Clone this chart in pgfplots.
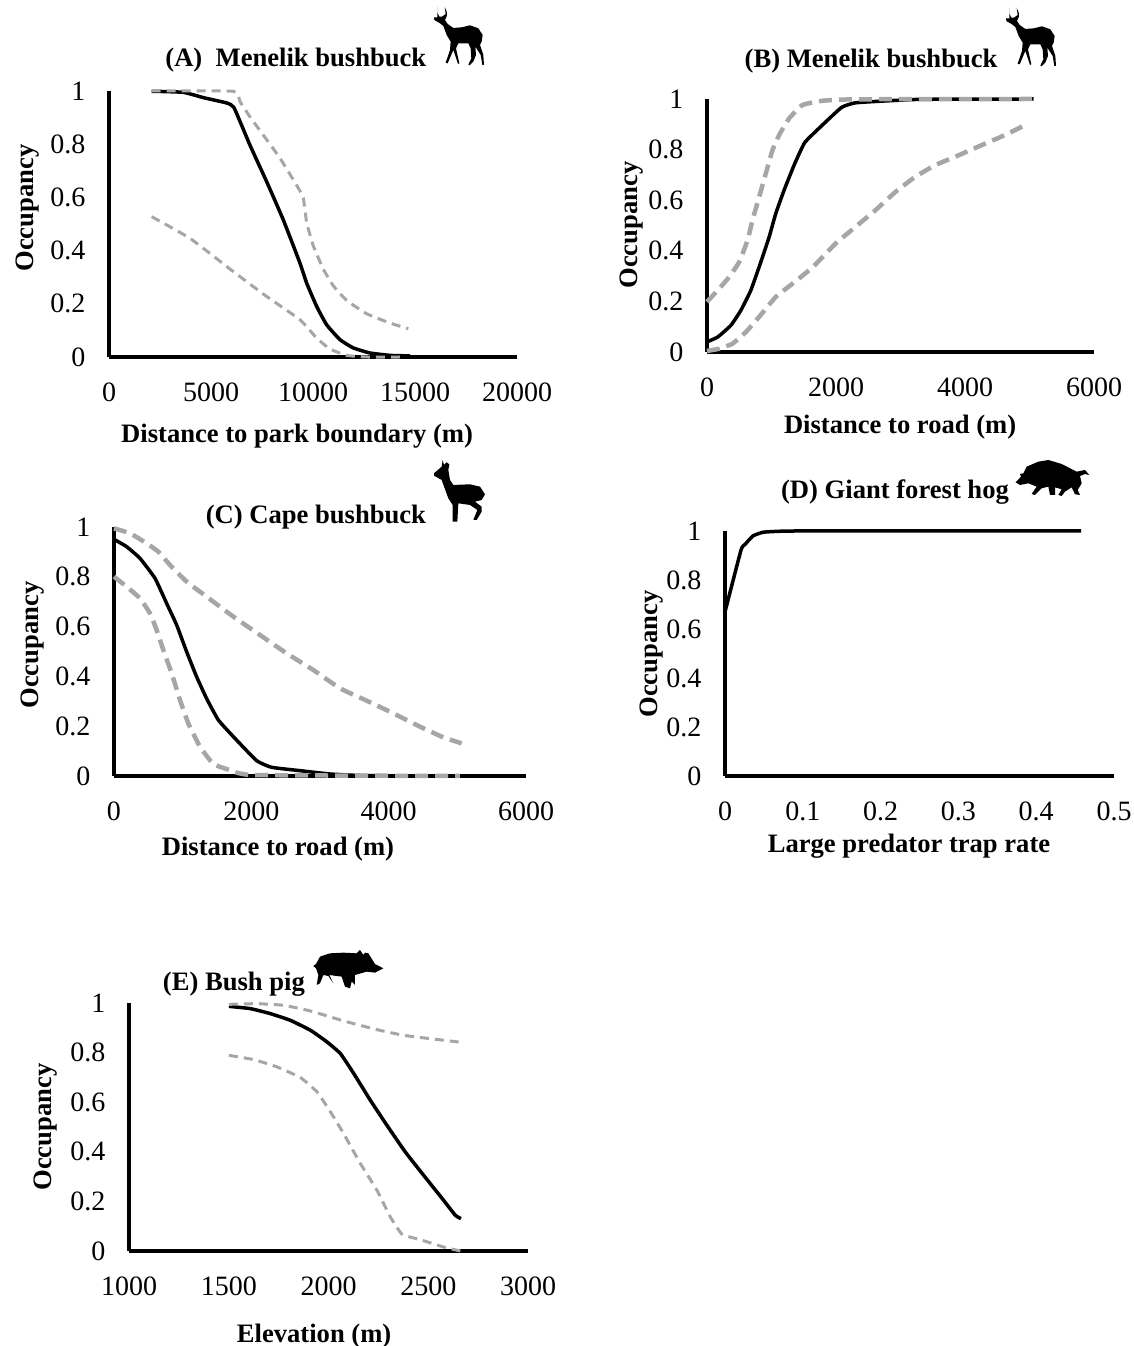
\documentclass[border=0pt]{standalone}
\usepackage{fontspec}
\setmainfont{Liberation Serif}
\usepackage{pgfplots}
\pgfplotsset{compat=1.18}
\definecolor{cigray}{HTML}{A6A6A6}
\pgfplotsset{
  panel/.style={
    scale only axis, clip=false, axis lines=left,
    axis line style={-, line width=3.5pt, black},
    major tick length=0pt, ymin=0, ymax=1,
    ytick={0,0.2,0.4,0.6,0.8,1},
    yticklabels={0,0.2,0.4,0.6,0.8,1},
    scaled ticks=false,
    /pgf/number format/assume math mode=true,
    /pgf/number format/1000 sep={},
    tick label style={font=\fontsize{28}{33}\selectfont},
    xticklabel style={yshift=-22pt},
    yticklabel style={xshift=-20pt},
    label style={font=\fontsize{26.6}{31}\selectfont\bfseries},
    xlabel style={yshift=-3pt},
    title style={font=\fontsize{26.6}{31}\selectfont\bfseries,yshift=-8pt},
  },
  mean/.style={black, line width=3.5pt, no markers, smooth, tension=0.25, line join=round},
  thin ci/.style={cigray, line width=3pt, no markers, smooth, tension=0.25, dash pattern=on 9pt off 6pt},
  thick ci/.style={cigray, line width=4.5pt, no markers, smooth, tension=0.25, dash pattern=on 13pt off 7pt},
}
\newcommand{\animal}[3]{\begin{scope}[shift={(#1,{1346-#2})},xscale=0.3333,yscale=-0.3333]\fill[black,line join=round] #3 -- cycle;\end{scope}}
\newcommand{\buck}{(112,20)--(112,38)--(118,50)--(126,50)--(137,42)--(134,20)--(141,38)--(140,50)--(135,60)--(143,72)--(160,84)--(185,82)--(210,76)--(235,85)--(248,105)--(245,125)--(240,135)--(250,165)--(252,195)--(247,195)--(242,165)--(226,140)--(228,165)--(220,185)--(209,196)--(205,194)--(214,175)--(212,145)--(205,130)--(175,130)--(168,145)--(178,190)--(174,192)--(160,150)--(143,190)--(137,188)--(150,150)--(152,125)--(140,105)--(130,78)--(120,70)--(103,60)--(102,52)--(112,52)}
\begin{document}
\begin{tikzpicture}[x=1pt,y=1pt]
\path[use as bounding box] (0,0) rectangle (1134,1346);

% (A)
\begin{axis}[panel, at={(109pt,989pt)}, anchor=south west, width=408pt, height=266pt,
  xmin=0, xmax=20000, xtick={0,5000,10000,15000,20000},
  xlabel={Distance to park boundary (m)}, ylabel={Occupancy},
  title={(A)\ \ Menelik bushbuck},
  xlabel style={at={(axis description cs:0.461,-0.286)},anchor=center},
  ylabel style={at={(axis description cs:-0.2,0.56)},anchor=center},
  title style={at={(axis description cs:0.458,1.124)},anchor=center}]
\addplot[mean] coordinates {(2092,0.999)(3644,0.995)(4624,0.975)(5768,0.955)(6127,0.9375)(6912,0.796)(7729,0.659)(8546,0.515)(9363,0.3525)(9690,0.2775)(10180,0.19)(10670,0.121)(11324,0.065)(11977,0.034)(12794,0.015)(13775,0.006)(14755,0.004)};
\addplot[thin ci] coordinates {(2092,1)(6095,0.999)(6422,0.96)(6912,0.9025)(7566,0.834)(8382,0.7475)(9281,0.635)(9526,0.5975)(9690,0.505)(10017,0.4175)(10507,0.33)(10997,0.2675)(11651,0.2125)(12631,0.1625)(13775,0.1275)(14674,0.10625)};
\addplot[thin ci] coordinates {(2092,0.5275)(3971,0.446)(6095,0.321)(7729,0.2275)(9363,0.14)(10180,0.071)(10833,0.03)(11651,0.006)(12631,0)(14428,0)};
\end{axis}

% (B)
\begin{axis}[panel, at={(707pt,994pt)}, anchor=south west, width=387pt, height=253pt,
  xmin=0, xmax=6000, xtick={0,2000,4000,6000},
  xlabel={Distance to road (m)}, ylabel={Occupancy},
  title={(B) Menelik bushbuck},
  xlabel style={at={(axis description cs:0.499,-0.285)},anchor=center},
  ylabel style={at={(axis description cs:-0.196,0.502)},anchor=center},
  title style={at={(axis description cs:0.424,1.158)},anchor=center}]
\addplot[mean] coordinates {(0,0.04)(165,0.059)(371,0.1055)(526,0.165)(680,0.244)(835,0.356)(964,0.455)(1067,0.548)(1196,0.64)(1351,0.739)(1516,0.828)(1789,0.897)(2088,0.967)(2304,0.985)(2820,0.993)(3335,0.9987)(5062,1)};
\addplot[thick ci] coordinates {(0,0.198)(191,0.251)(345,0.297)(500,0.356)(629,0.442)(706,0.522)(809,0.613)(912,0.706)(1016,0.798)(1119,0.858)(1273,0.923)(1479,0.976)(1789,0.993)(2304,0.9987)(5062,1)};
\addplot[thick ci] coordinates {(0,0.004)(191,0.013)(397,0.033)(603,0.079)(809,0.139)(1067,0.218)(1325,0.27)(1634,0.334)(1995,0.429)(2304,0.495)(2614,0.561)(2923,0.633)(3232,0.693)(3542,0.739)(3851,0.772)(4263,0.818)(4624,0.858)(4933,0.897)};
\end{axis}

% (C)
\begin{axis}[panel, at={(114pt,570pt)}, anchor=south west, width=412pt, height=249pt,
  xmin=0, xmax=6000, xtick={0,2000,4000,6000},
  xlabel={Distance to road (m)}, ylabel={Occupancy},
  title={(C) Cape bushbuck},
  xlabel style={at={(axis description cs:0.398,-0.281)},anchor=center},
  ylabel style={at={(axis description cs:-0.197,0.526)},anchor=center},
  title style={at={(axis description cs:0.49,1.048)},anchor=center}]
\addplot[mean] coordinates {(0,0.9505)(184,0.921)(379,0.874)(597,0.794)(767,0.693)(913,0.606)(1058,0.499)(1204,0.398)(1349,0.311)(1519,0.225)(1738,0.158)(2077,0.0616)(2296,0.0348)(2709,0.0214)(3145,0.008)(3679,0.0013)(5281,0)};
\addplot[thick ci] coordinates {(0,0.9946)(233,0.9746)(476,0.9344)(646,0.9009)(815,0.8474)(1058,0.7805)(1349,0.7202)(1738,0.6399)(2126,0.5663)(2514,0.4926)(2903,0.4257)(3291,0.3521)(3679,0.3025)(4068,0.2517)(4456,0.1981)(4796,0.1553)(5063,0.1312)};
\addplot[thick ci] coordinates {(0,0.8005)(184,0.7604)(379,0.7135)(524,0.6533)(621,0.5863)(718,0.506)(840,0.4123)(961,0.3052)(1082,0.2115)(1252,0.1178)(1447,0.0482)(1689,0.0241)(2029,0.004)(5038,0)};
\end{axis}

% (D)
\begin{axis}[panel, at={(725pt,570pt)}, anchor=south west, width=389pt, height=245pt,
  xmin=0, xmax=0.5, xtick={0,0.1,0.2,0.3,0.4,0.5},
  xticklabels={0,0.1,0.2,0.3,0.4,0.5},
  xlabel={Large predator trap rate}, ylabel={Occupancy},
  title={(D) Giant forest hog},
  xlabel style={at={(axis description cs:0.473,-0.273)},anchor=center},
  ylabel style={at={(axis description cs:-0.19,0.498)},anchor=center},
  title style={at={(axis description cs:0.437,1.167)},anchor=center}]
\addplot[mean] coordinates {(0,0.67)(0.0206,0.9224)(0.0257,0.945)(0.036,0.98)(0.049,0.995)(0.071,0.999)(0.096,1)(0.4576,1)};
\end{axis}

% (E)
\begin{axis}[panel, at={(129pt,95pt)}, anchor=south west, width=399pt, height=248pt,
  xmin=1000, xmax=3000, xtick={1000,1500,2000,2500,3000},
  xlabel={Elevation (m)}, ylabel={Occupancy},
  title={(E) Bush pig},
  xlabel style={at={(axis description cs:0.464,-0.331)},anchor=center},
  ylabel style={at={(axis description cs:-0.21,0.5)},anchor=center},
  title style={at={(axis description cs:0.263,1.085)},anchor=center}]
\addplot[mean] coordinates {(1501,0.9866)(1609,0.9772)(1709,0.957)(1809,0.9301)(1910,0.8898)(1993,0.8427)(2060,0.7957)(2127,0.7151)(2210,0.6075)(2293,0.5067)(2385,0.3992)(2477,0.3051)(2577,0.2043)(2636,0.1438)(2664,0.1304)};
\addplot[thin ci] coordinates {(1501,0.9946)(1643,0.9973)(1776,0.9906)(1910,0.9677)(2077,0.9274)(2243,0.8925)(2377,0.8696)(2510,0.8562)(2652,0.8427)};
\addplot[thin ci] coordinates {(1501,0.789)(1626,0.7715)(1743,0.7419)(1860,0.6989)(1943,0.6411)(2010,0.5605)(2076,0.4731)(2160,0.3522)(2243,0.2446)(2310,0.1371)(2369,0.0672)(2460,0.0457)(2577,0.0161)(2661,0)};
\end{axis}

% silhouettes
\animal{400}{0}{\buck}
\animal{972}{1}{\buck}
\animal{420}{455}{(68,15)--(72,30)--(80,22)--(88,28)--(85,45)--(90,75)--(100,90)--(150,88)--(180,95)--(195,118)--(185,135)--(165,140)--(185,155)--(185,170)--(170,195)--(160,195)--(172,165)--(150,150)--(115,145)--(112,200)--(98,200)--(98,150)--(85,130)--(65,75)--(42,62)--(42,55)--(65,35)}
\animal{1005}{450}{(32,97)--(48,80)--(45,72)--(55,70)--(65,50)--(100,35)--(130,30)--(170,42)--(215,65)--(240,60)--(253,75)--(240,72)--(225,78)--(230,100)--(218,120)--(225,135)--(210,133)--(200,112)--(180,125)--(170,138)--(160,135)--(170,118)--(150,112)--(150,135)--(135,135)--(130,110)--(110,115)--(90,135)--(80,132)--(95,110)--(70,100)--(45,105)}
\animal{300}{940}{(250,85)--(225,72)--(205,40)--(195,38)--(190,45)--(180,30)--(170,40)--(130,38)--(90,40)--(60,50)--(48,72)--(40,78)--(48,85)--(55,105)--(50,135)--(60,130)--(70,105)--(85,108)--(100,130)--(88,105)--(125,110)--(135,140)--(150,145)--(155,125)--(165,135)--(165,105)--(200,95)--(225,98)}
\end{tikzpicture}
\end{document}
